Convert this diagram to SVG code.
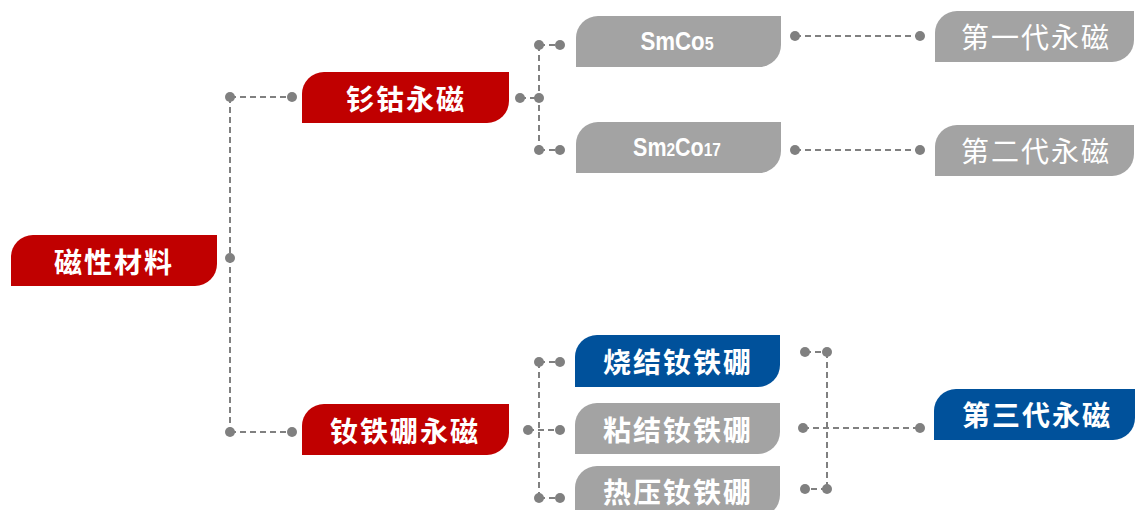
<svg xmlns="http://www.w3.org/2000/svg" width="1135" height="510" viewBox="0 0 1135 510">
<defs>
<style>
.red{fill:#C00000}
.gray{fill:#A3A3A3}
.blue{fill:#00519B}
.cjk{font-family:"Noto Sans CJK SC","Noto Sans",sans-serif;font-size:28px;fill:#FFFFFF;text-anchor:middle;letter-spacing:2px}
.b{font-weight:bold}
.lat{font-family:"Liberation Sans",Arial,sans-serif;font-size:25px;font-weight:bold;fill:#FFFFFF;text-anchor:middle}
.dash{stroke:#808080;stroke-width:2;stroke-dasharray:6 4;fill:none}
.dot{fill:#808080}
</style>
</defs>
<g id="connectors">
<path class="dash" d="M230,97 V432 M230,97 H292 M230,432 H292"/>
<path class="dash" d="M520,98 H539 M539,45 V150 M539,45 H560 M539,150 H560"/>
<path class="dash" d="M795,36 H920 M795,150 H920"/>
<path class="dash" d="M528,430 H560 M539,362 V498 M539,362 H560 M539,498 H560"/>
<path class="dash" d="M805,352 H827 M827,352 V489 M827,489 H805 M803,428 H920"/>
<g class="dot">
<circle cx="230" cy="97" r="5"/><circle cx="292" cy="97" r="5"/><circle cx="230" cy="258" r="5"/><circle cx="230" cy="432" r="5"/><circle cx="292" cy="432" r="5"/>
<circle cx="520" cy="98" r="5"/><circle cx="539" cy="98" r="5"/><circle cx="539" cy="45" r="5"/><circle cx="560" cy="45" r="5"/><circle cx="539" cy="150" r="5"/><circle cx="560" cy="150" r="5"/>
<circle cx="795" cy="36" r="5"/><circle cx="920" cy="36" r="5"/><circle cx="795" cy="150" r="5"/><circle cx="920" cy="150" r="5"/>
<circle cx="528" cy="430" r="5"/><circle cx="560" cy="430" r="5"/><circle cx="539" cy="362" r="5"/><circle cx="560" cy="362" r="5"/><circle cx="539" cy="498" r="5"/><circle cx="560" cy="498" r="5"/>
<circle cx="805" cy="352" r="5"/><circle cx="827" cy="352" r="5"/><circle cx="805" cy="489" r="5"/><circle cx="827" cy="489" r="5"/><circle cx="803" cy="428" r="5"/><circle cx="920" cy="428" r="5"/>
</g>
</g>
<g id="n-cixingcailiao">
<path class="red" d="M33,235 H217 V264 A22,22 0 0 1 195,286 H11 V257 A22,22 0 0 1 33,235 Z"/>
<text class="cjk b" x="114" y="273">磁性材料</text>
</g>
<g id="n-shangu">
<path class="red" d="M324,72 H509 V101 A22,22 0 0 1 487,123 H302 V94 A22,22 0 0 1 324,72 Z"/>
<text class="cjk b" x="406" y="110">钐钴永磁</text>
</g>
<g id="n-nvtiepeng">
<path class="red" d="M324,404 H509 V433 A22,22 0 0 1 487,455 H302 V426 A22,22 0 0 1 324,404 Z"/>
<text class="cjk b" x="405" y="442">钕铁硼永磁</text>
</g>
<g id="n-smco5">
<path class="gray" d="M598,16 H781 V45 A22,22 0 0 1 759,67 H576 V38 A22,22 0 0 1 598,16 Z"/>
<text class="lat" transform="translate(677,50) scale(0.89,1)">SmCo<tspan font-size="18">5</tspan></text>
</g>
<g id="n-sm2co17">
<path class="gray" d="M598,122 H781 V151 A22,22 0 0 1 759,173 H576 V144 A22,22 0 0 1 598,122 Z"/>
<text class="lat" transform="translate(677,156) scale(0.86,1)">Sm<tspan font-size="18">2</tspan>Co<tspan font-size="18">17</tspan></text>
</g>
<g id="n-diyidai">
<path class="gray" d="M957,11 H1134 V40 A22,22 0 0 1 1112,62 H935 V33 A22,22 0 0 1 957,11 Z"/>
<text class="cjk" x="1036" y="48">第一代永磁</text>
</g>
<g id="n-dierdai">
<path class="gray" d="M957,125 H1134 V154 A22,22 0 0 1 1112,176 H935 V147 A22,22 0 0 1 957,125 Z"/>
<text class="cjk" x="1036" y="162">第二代永磁</text>
</g>
<g id="n-shaojie">
<path class="blue" d="M597,335 H780 V365 A22,22 0 0 1 758,387 H575 V357 A22,22 0 0 1 597,335 Z"/>
<text class="cjk b" x="678" y="373">烧结钕铁硼</text>
</g>
<g id="n-zhanjie">
<path class="gray" d="M597,403 H780 V432 A22,22 0 0 1 758,454 H575 V425 A22,22 0 0 1 597,403 Z"/>
<text class="cjk b" x="678" y="441">粘结钕铁硼</text>
</g>
<g id="n-reya">
<path class="gray" d="M597,466 H780 V495 A22,22 0 0 1 758,517 H575 V488 A22,22 0 0 1 597,466 Z"/>
<text class="cjk b" x="678" y="503">热压钕铁硼</text>
</g>
<g id="n-disandai">
<path class="blue" d="M956,389 H1135 V418 A22,22 0 0 1 1113,440 H934 V411 A22,22 0 0 1 956,389 Z"/>
<text class="cjk b" x="1037" y="426">第三代永磁</text>
</g>
</svg>
